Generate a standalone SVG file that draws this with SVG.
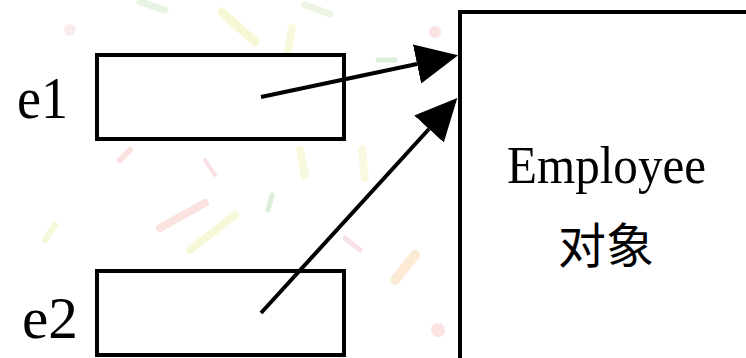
<svg xmlns="http://www.w3.org/2000/svg" width="746" height="358" viewBox="0 0 746 358">
  <style>
    .box { fill: #ffffff; stroke: #000000; stroke-width: 4; }
    .lbl { font-family: "Liberation Serif", "Times New Roman", serif; fill: #000000; }
    .cjk { font-family: "Liberation Serif", "Noto Sans CJK SC", serif; fill: #000000; }
    .conn { stroke: #000000; stroke-width: 4; fill: none; }
    .streak { stroke-linecap: round; fill: none; opacity: 0.22; }
  </style>
  <defs>
    <marker id="arrow" viewBox="0 0 42 40" refX="0" refY="20" markerWidth="42" markerHeight="40" markerUnits="userSpaceOnUse" orient="auto">
      <path d="M0,0 L42,20 L0,40 z" fill="#000000"/>
    </marker>
  </defs>
  <rect width="746" height="358" fill="#ffffff"/>
  <g id="background">
    <line class="streak" x1="222" y1="12" x2="255" y2="42" stroke="#d8e040" stroke-width="9"/>
    <line class="streak" x1="292" y1="28" x2="288" y2="50" stroke="#e8e060" stroke-width="8"/>
    <line class="streak" x1="140" y1="2" x2="165" y2="10" stroke="#90c880" stroke-width="7"/>
    <line class="streak" x1="305" y1="5" x2="330" y2="14" stroke="#a8d080" stroke-width="7"/>
    <circle cx="435" cy="32" r="6" fill="#e89090" opacity="0.25"/>
    <line class="streak" x1="378" y1="60" x2="395" y2="60" stroke="#60b060" stroke-width="5"/>
    <circle cx="70" cy="30" r="6" fill="#e8a0a0" opacity="0.2"/>
    <line class="streak" x1="160" y1="228" x2="205" y2="203" stroke="#e87a6a" stroke-width="8"/>
    <line class="streak" x1="190" y1="250" x2="235" y2="215" stroke="#d8e050" stroke-width="8"/>
    <line class="streak" x1="272" y1="195" x2="268" y2="210" stroke="#60b060" stroke-width="5"/>
    <line class="streak" x1="395" y1="280" x2="415" y2="255" stroke="#f0a040" stroke-width="10"/>
    <line class="streak" x1="345" y1="238" x2="360" y2="250" stroke="#e07090" stroke-width="5"/>
    <circle cx="438" cy="330" r="7" fill="#f09090" opacity="0.25"/>
    <line class="streak" x1="300" y1="150" x2="305" y2="175" stroke="#e0e060" stroke-width="8"/>
    <line class="streak" x1="362" y1="150" x2="365" y2="178" stroke="#e8e070" stroke-width="8"/>
    <line class="streak" x1="205" y1="160" x2="215" y2="175" stroke="#e07080" stroke-width="4"/>
    <line class="streak" x1="130" y1="150" x2="120" y2="160" stroke="#e88070" stroke-width="6"/>
    <line class="streak" x1="45" y1="240" x2="55" y2="225" stroke="#d8e060" stroke-width="6"/>
  </g>
  <g id="e1">
    <rect class="box" x="97" y="55" width="247" height="84"/>
    <text class="lbl" x="17" y="118" font-size="60" textLength="51" lengthAdjust="spacingAndGlyphs">e1</text>
  </g>
  <g id="e2">
    <rect class="box" x="97" y="271" width="247" height="84"/>
    <text class="lbl" x="22" y="338" font-size="60" textLength="56" lengthAdjust="spacingAndGlyphs">e2</text>
  </g>
  <g id="employee">
    <rect class="box" x="460" y="12" width="310" height="370"/>
    <text class="lbl" x="507" y="183" font-size="52" textLength="199" lengthAdjust="spacingAndGlyphs">Employee</text>
    <text class="cjk" x="558" y="263" font-size="48" textLength="96" lengthAdjust="spacingAndGlyphs">对象</text>
  </g>
  <g id="connectors">
    <line class="conn" x1="261" y1="97" x2="417" y2="64" marker-end="url(#arrow)"/>
    <line class="conn" x1="261" y1="313" x2="429" y2="129" marker-end="url(#arrow)"/>
  </g>
</svg>
